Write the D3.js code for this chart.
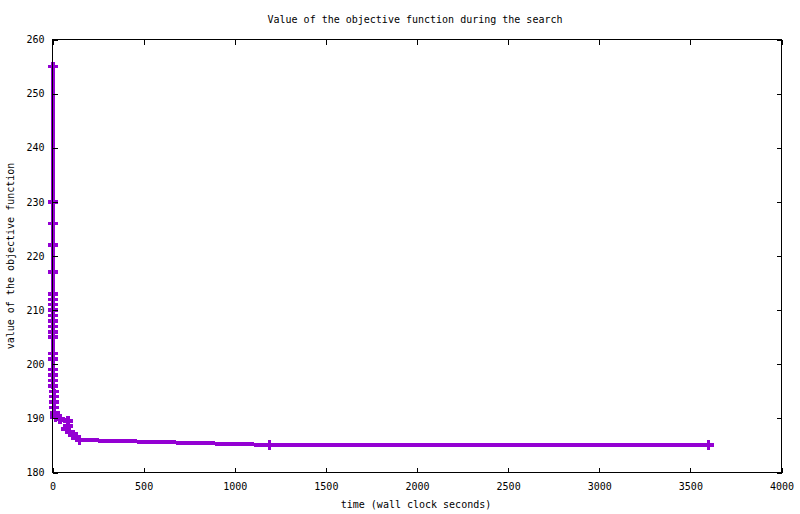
<!DOCTYPE html>
<html>
<head>
<meta charset="utf-8">
<script src="https://cdn.jsdelivr.net/npm/d3@7"></script>
<style>
  body { margin: 0; background: #fff; }
  text { font-family: "DejaVu Sans Mono", "Liberation Mono", monospace; font-size: 10px; fill: #000; }
</style>
</head>
<body>
<svg id="chart" width="800" height="514"></svg>
<script>
// Data
const times = [3, 3, 3, 3, 3, 3, 3, 3, 3, 3, 3, 3, 3, 3, 3, 3, 4, 4, 5, 5, 6, 7, 8, 8, 12, 16,
               40, 85, 85, 76, 94, 112, 131, 149, 1190, 3600];
const values = [255, 230, 226, 222, 217, 213, 212, 211, 210, 209, 208, 207, 206, 205, 202, 201,
                199, 198, 197, 196, 195, 194, 193, 192, 191, 190.3,
                189.9, 189.5, 188.6, 188.0, 187.5, 187.0, 186.6, 186.0, 185.1, 185.1];
const xTicks = [0, 500, 1000, 1500, 2000, 2500, 3000, 3500, 4000];
const yTicks = [180, 190, 200, 210, 220, 230, 240, 250, 260];
const titleText = "Value of the objective function during the search";
const xLabel = "time (wall clock seconds)";
const yLabel = "value of the objective function";

const W = 800, H = 514;
const m = { left: 52.5, right: 18.5, top: 39.5, bottom: 41.5 };
const svg = d3.select("#chart");

const x = d3.scaleLinear().domain([0, 4000]).range([m.left, W - m.right]);
const y = d3.scaleLinear().domain([180, 260]).range([H - m.bottom, m.top]);

const pts = times.map((t, i) => [t, values[i]]);
const color = "#9400D3";

// Data line
svg.append("path")
  .datum(pts)
  .attr("fill", "none")
  .attr("stroke", color)
  .attr("stroke-width", 4)
  .attr("shape-rendering", "crispEdges")
  .attr("d", d3.line().x(d => x(d[0])).y(d => y(d[1])));

// Point markers (+)
const s = 5;
svg.append("g").selectAll("path.pt")
  .data(pts).join("path")
  .attr("fill", "none")
  .attr("stroke", color)
  .attr("stroke-width", 3.5)
  .attr("shape-rendering", "crispEdges")
  .attr("d", d => {
    const px = x(d[0]), py = y(d[1]);
    return `M${px - s},${py}H${px + s}M${px},${py - s}V${py + s}`;
  });

// Axes (ticks inward, mirrored)
const tickLen = 5;
const fmt = d3.format("d");
const bottomAxis = d3.axisBottom(x).tickValues(xTicks).tickFormat(fmt).tickSizeInner(-tickLen).tickSizeOuter(0).tickPadding(10);
const topAxis = d3.axisTop(x).tickValues(xTicks).tickSizeInner(-tickLen).tickSizeOuter(0).tickFormat("");
const leftAxis = d3.axisLeft(y).tickValues(yTicks).tickFormat(fmt).tickSizeInner(-tickLen).tickSizeOuter(0).tickPadding(8);
const rightAxis = d3.axisRight(y).tickValues(yTicks).tickSizeInner(-tickLen).tickSizeOuter(0).tickFormat("");

function style(g) {
  g.select(".domain").remove();
  g.selectAll("line").attr("stroke", "#000").attr("shape-rendering", "crispEdges");
  g.attr("font-family", null).attr("font-size", null);
}
svg.append("g").attr("transform", `translate(0,${H - m.bottom})`).call(bottomAxis).call(style);
svg.append("g").attr("transform", `translate(0,${m.top})`).call(topAxis).call(style);
svg.append("g").attr("transform", `translate(${m.left},0)`).call(leftAxis).call(style);
svg.append("g").attr("transform", `translate(${W - m.right},0)`).call(rightAxis).call(style);

// Border
svg.append("rect")
  .attr("x", m.left).attr("y", m.top)
  .attr("width", W - m.left - m.right).attr("height", H - m.top - m.bottom)
  .attr("fill", "none").attr("stroke", "#000").attr("stroke-width", 1.3)
  .attr("shape-rendering", "crispEdges");

// Title and labels
svg.append("text").attr("x", 415).attr("y", 23).attr("text-anchor", "middle").text(titleText);
svg.append("text").attr("x", 416).attr("y", 508).attr("text-anchor", "middle").text(xLabel);
svg.append("text").attr("transform", `translate(14,256) rotate(-90)`).attr("text-anchor", "middle").text(yLabel);
</script>
</body>
</html>
